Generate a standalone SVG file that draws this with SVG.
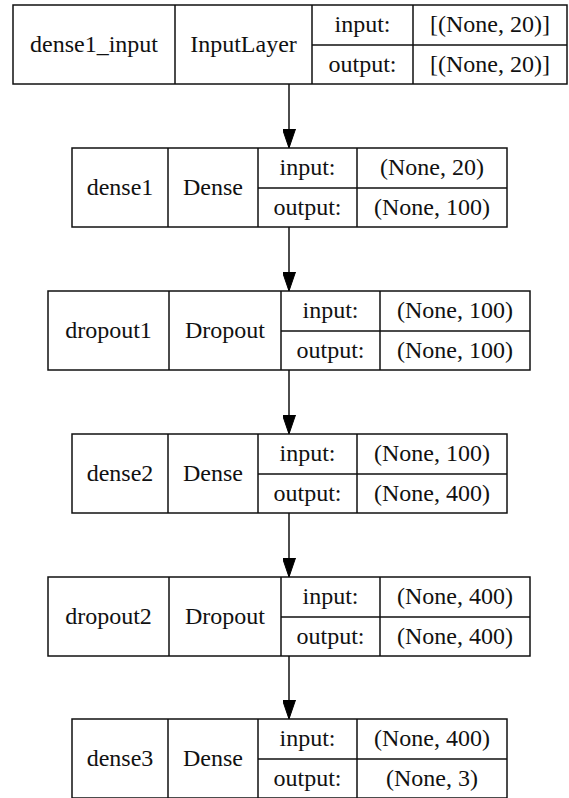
<svg xmlns="http://www.w3.org/2000/svg" width="569" height="798" viewBox="0 0 569 798">
<style>
.box{fill:#fff;stroke:#111;stroke-width:1.5}
.ln{stroke:#111;stroke-width:1.5;fill:none}
.edge{stroke:#000;stroke-width:1.4;fill:none}
</style>
<defs>
<marker id="arr" viewBox="0 0 19 13" refX="19" refY="6.5" markerWidth="19" markerHeight="13" markerUnits="userSpaceOnUse" orient="auto">
<path d="M0,0 L19,6.5 L0,13 z" fill="#000" stroke="#000" stroke-width="1"/>
</marker>
</defs>
<rect width="569" height="798" fill="#fff"/>
<g id="connectors">
<line class="edge" x1="289" y1="84" x2="289" y2="148" marker-end="url(#arr)"/>
<line class="edge" x1="289" y1="227" x2="289" y2="291" marker-end="url(#arr)"/>
<line class="edge" x1="289" y1="370" x2="289" y2="434" marker-end="url(#arr)"/>
<line class="edge" x1="289" y1="513" x2="289" y2="577" marker-end="url(#arr)"/>
<line class="edge" x1="289" y1="656" x2="289" y2="719" marker-end="url(#arr)"/>
</g>
<g font-family="Liberation Serif, Times New Roman, serif" font-size="24" fill="#111" text-anchor="middle">
<g id="dense1_input">
<rect class="box" x="13" y="5" width="554" height="79"/>
<path class="ln" d="M175,5V84M312,5V84M413,5V84M312,45H567"/>
<text x="94" y="52">dense1_input</text>
<text x="243.5" y="52">InputLayer</text>
<text x="362.5" y="32">input:</text>
<text x="362.5" y="72">output:</text>
<text x="490" y="32">[(None, 20)]</text>
<text x="490" y="72">[(None, 20)]</text>
</g>
<g id="dense1">
<rect class="box" x="72" y="148" width="435" height="79"/>
<path class="ln" d="M168,148V227M258,148V227M357,148V227M258,188H507"/>
<text x="120" y="195">dense1</text>
<text x="213" y="195">Dense</text>
<text x="307.5" y="175">input:</text>
<text x="307.5" y="214.5">output:</text>
<text x="432" y="175">(None, 20)</text>
<text x="432" y="214.5">(None, 100)</text>
</g>
<g id="dropout1">
<rect class="box" x="48" y="291" width="482" height="79"/>
<path class="ln" d="M169,291V370M281,291V370M380,291V370M281,331H530"/>
<text x="108.5" y="337.5">dropout1</text>
<text x="225" y="337.5">Dropout</text>
<text x="330.5" y="318">input:</text>
<text x="330.5" y="357.5">output:</text>
<text x="455" y="318">(None, 100)</text>
<text x="455" y="357.5">(None, 100)</text>
</g>
<g id="dense2">
<rect class="box" x="72" y="434" width="435" height="79"/>
<path class="ln" d="M168,434V513M258,434V513M357,434V513M258,474H507"/>
<text x="120" y="480.5">dense2</text>
<text x="213" y="480.5">Dense</text>
<text x="307.5" y="461">input:</text>
<text x="307.5" y="500.5">output:</text>
<text x="432" y="461">(None, 100)</text>
<text x="432" y="500.5">(None, 400)</text>
</g>
<g id="dropout2">
<rect class="box" x="48" y="577" width="482" height="79"/>
<path class="ln" d="M169,577V656M281,577V656M380,577V656M281,617H530"/>
<text x="108.5" y="623.5">dropout2</text>
<text x="225" y="623.5">Dropout</text>
<text x="330.5" y="604">input:</text>
<text x="330.5" y="643.5">output:</text>
<text x="455" y="604">(None, 400)</text>
<text x="455" y="643.5">(None, 400)</text>
</g>
<g id="dense3">
<rect class="box" x="72" y="719" width="435" height="79"/>
<path class="ln" d="M168,719V798M258,719V798M357,719V798M258,759H507"/>
<text x="120" y="765.5">dense3</text>
<text x="213" y="765.5">Dense</text>
<text x="307.5" y="746">input:</text>
<text x="307.5" y="785.5">output:</text>
<text x="432" y="746">(None, 400)</text>
<text x="432" y="785.5">(None, 3)</text>
</g>
</g>
</svg>
